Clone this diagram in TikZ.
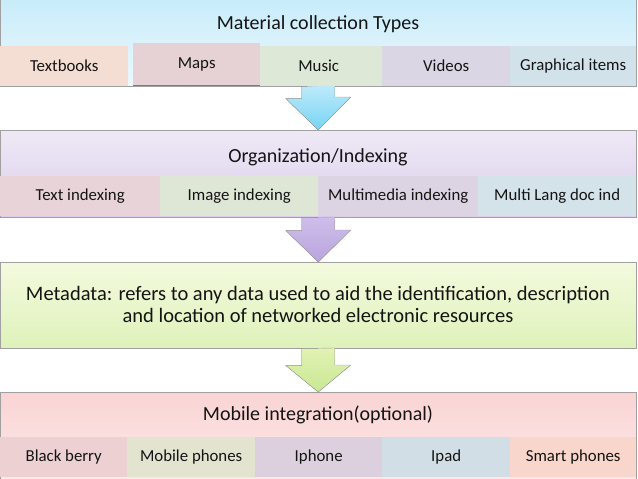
\documentclass[tikz,border=0pt]{standalone}
\usepackage{fontspec}
\setmainfont{Carlito}
\usetikzlibrary{calc,positioning}
\definecolor{EdgeClr}{RGB}{160,160,160}
\definecolor{TxtClr}{RGB}{20,20,20}

\tikzset{
  band/.style={draw=EdgeClr,line width=0.5pt,rectangle,anchor=north west,
    minimum width=636pt,minimum height=87pt,inner sep=0pt},
  bandtitle/.style={font=\fontsize{20}{24}\selectfont,text=TxtClr},
  cell/.style={rectangle,anchor=north west,inner sep=0pt,minimum height=40pt,
    font=\fontsize{16.8}{20}\selectfont,text=TxtClr},
  blockarrow/.style={draw=EdgeClr,line width=0.4pt}
}

\begin{document}
\begin{tikzpicture}[x=1pt,y=-1pt]
\useasboundingbox (0,0) rectangle (638,479);

% the four bands
\node[band,top color={rgb,255:red,200;green,236;blue,250},bottom color={rgb,255:red,236;green,248;blue,253}] (m1) at (0,-1) {};
\node[band,top color={rgb,255:red,238;green,233;blue,246},bottom color={rgb,255:red,220;green,206;blue,236}] (m2) at (0,130) {};
\node[band,top color={rgb,255:red,244;green,250;blue,222},bottom color={rgb,255:red,222;green,242;blue,186},minimum height=86pt] (m3) at (0,262) {};
\node[band,top color={rgb,255:red,250;green,212;blue,212},bottom color={rgb,255:red,252;green,232;blue,232}] (m4) at (0,392) {};

% block arrows between bands
\filldraw[blockarrow,top color={rgb,255:red,190;green,234;blue,250},bottom color={rgb,255:red,120;green,212;blue,244}]
  ($(m1.south)+(-16.5,0)$) -- ++(0,12) -- ++(-16,0) -- (m2.north) -- ++(32.5,-33) -- ++(-16,0) -- ++(0,-12) -- cycle;
\filldraw[blockarrow,top color={rgb,255:red,206;green,190;blue,234},bottom color={rgb,255:red,186;green,164;blue,222}]
  ($(m2.south)+(-16.5,0)$) -- ++(0,13) -- ++(-16,0) -- (m3.north) -- ++(32.5,-32) -- ++(-16,0) -- ++(0,-13) -- cycle;
\filldraw[blockarrow,top color={rgb,255:red,226;green,242;blue,180},bottom color={rgb,255:red,200;green,232;blue,146}]
  ($(m3.south)+(-16.5,0)$) -- ++(0,17) -- ++(-16,0) -- (m4.north) -- ++(32.5,-27) -- ++(-16,0) -- ++(0,-17) -- cycle;

% titles
\node[bandtitle] (t1) at (318,24) {Material collection Types};
\node[bandtitle] (t2) at (318,157) {Organization/Indexing};
\node[bandtitle,align=center,font=\fontsize{20.5}{22}\selectfont] (t3) at (318,304)
  {Metadata: refers to any data used to aid the identification, description\\and location of networked electronic resources};
\node[bandtitle] (t4) at (318,415) {Mobile integration(optional)};

% row of band 1
\node[cell,minimum width=128pt,fill={rgb,255:red,244;green,222;blue,212}] (textbooks) at (0,46) {Textbooks};
\node[cell,minimum width=127pt,fill={rgb,255:red,222;green,232;blue,214}] (music) at (255,46) {Music};
\node[cell,minimum width=127pt,minimum height=42pt,fill={rgb,255:red,230;green,210;blue,213}] (maps) at (133,43) {\raisebox{3pt}{Maps}};
\draw[line width=0.8pt,color={rgb,255:red,110;green,130;blue,140}] (maps.south west) -- (maps.south east);
\node[cell,minimum width=128pt,fill={rgb,255:red,218;green,214;blue,228}] (videos) at (382,46) {Videos};
\node[cell,minimum width=126pt,fill={rgb,255:red,210;green,226;blue,234}] (graphical) at (510,46) {Graphical items};

% row of band 2
\node[cell,minimum width=160pt,fill={rgb,255:red,232;green,212;blue,216}] (textidx) at (0,176) {Text indexing};
\node[cell,minimum width=158pt,fill={rgb,255:red,222;green,230;blue,214}] (imageidx) at (160,176) {Image indexing};
\node[cell,minimum width=160pt,fill={rgb,255:red,220;green,212;blue,226}] (multiidx) at (318,176) {Multimedia indexing};
\node[cell,minimum width=158pt,fill={rgb,255:red,212;green,226;blue,234}] (langidx) at (478,176) {Multi Lang doc ind};

% row of band 4
\node[cell,minimum width=127pt,fill={rgb,255:red,236;green,208;blue,210}] (blackberry) at (0,437) {Black berry};
\node[cell,minimum width=128pt,fill={rgb,255:red,226;green,228;blue,208}] (mobiles) at (127,437) {Mobile phones};
\node[cell,minimum width=127pt,fill={rgb,255:red,220;green,208;blue,222}] (iphone) at (255,437) {Iphone};
\node[cell,minimum width=128pt,fill={rgb,255:red,210;green,222;blue,230}] (ipad) at (382,437) {Ipad};
\node[cell,minimum width=126pt,fill={rgb,255:red,248;green,214;blue,204}] (smart) at (510,437) {Smart phones};

\end{tikzpicture}
\end{document}
